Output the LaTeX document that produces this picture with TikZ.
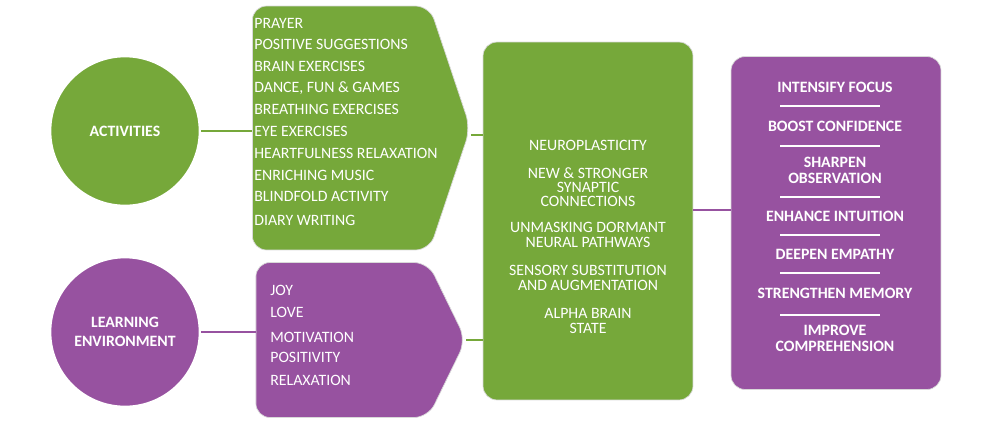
\documentclass[tikz,border=0pt]{standalone}
\usepackage{fontspec}
\setmainfont{Carlito}
\usetikzlibrary{shapes.symbols, positioning}
\definecolor{leaf}{RGB}{118,168,58}
\definecolor{plum}{RGB}{151,82,160}

\begin{document}
\begin{tikzpicture}[
    x=0.02cm, y=-0.02cm,
    hub/.style={circle, draw=white, line width=1.5pt, minimum size=3cm, text=white, font=\bfseries\small, align=center},
    chev/.style={signal, signal to=east, draw=black!15, rounded corners=8pt, inner sep=0pt},
    panel/.style={rectangle, draw=black!15, rounded corners=8pt, inner sep=0pt},
    item/.style={anchor=west, text=white, font=\small, inner sep=0pt},
    effect/.style={text=white, font=\bfseries\small, align=center, inner sep=0pt},
    link/.style={line width=1.2pt}
]
\useasboundingbox (0,0) rectangle (1000,427);

% circles
\node[hub, fill=leaf] (act) at (125,131) {ACTIVITIES};
\node[hub, fill=plum] (env) at (125,332) {LEARNING\\ENVIRONMENT};

% chevrons
\node[chev, fill=leaf, minimum width=4.36cm, minimum height=4.88cm, signal pointer angle=143] (list) at (341,128) {};
\node[chev, fill=plum, minimum width=4.2cm, minimum height=3.1cm, signal pointer angle=128] (mood) at (342,340) {};

% panels
\node[panel, fill=leaf, minimum width=4.2cm, minimum height=7.16cm] (brain) at (588,221) {};
\node[panel, fill=plum, minimum width=4.2cm, minimum height=6.66cm] (gain) at (836,223) {};

% activity list
\foreach \t/\y in {PRAYER/23, POSITIVE SUGGESTIONS/44, BRAIN EXERCISES/66, {DANCE, FUN \& GAMES}/88,
    BREATHING EXERCISES/109, EYE EXERCISES/131, HEARTFULNESS RELAXATION/153, ENRICHING MUSIC/175,
    BLINDFOLD ACTIVITY/196, DIARY WRITING/220}
    \node[item] at (254,\y) {\t};

% environment list
\foreach \t/\y in {JOY/290, LOVE/312, MOTIVATION/337, POSITIVITY/357, RELAXATION/380}
    \node[item] at (270,\y) {\t};

% brain changes
\foreach \t/\y in {NEUROPLASTICITY/145, {NEW \& STRONGER\\[-3pt]SYNAPTIC\\[-3pt]CONNECTIONS}/187,
    {UNMASKING DORMANT\\[-2pt]NEURAL PATHWAYS}/235, {SENSORY SUBSTITUTION\\[-2pt]AND AUGMENTATION}/278,
    {ALPHA BRAIN\\[-2pt]STATE}/321}
    \node[item, anchor=center, align=center] at (588,\y) {\t};

% outcomes
\foreach \t/\y in {INTENSIFY FOCUS/87, BOOST CONFIDENCE/126, {SHARPEN\\[-2pt]OBSERVATION}/170,
    ENHANCE INTUITION/216, DEEPEN EMPATHY/254, STRENGTHEN MEMORY/293, {IMPROVE\\[-2pt]COMPREHENSION}/338}
    \node[effect] at (835,\y) {\t};
\foreach \y in {106,146,197,235,273,315}
    \draw[white, line width=0.6pt] (780,\y) -- (880,\y);

% connectors
\draw[link, leaf] (act.east) -- (act.east -| list.west);
\draw[link, plum] (env.east) -- (env.east -| mood.west);
\draw[link, leaf] (list.east |- 0,135) -- (brain.west |- 0,135);
\draw[link, leaf] (mood.east) -- (mood.east -| brain.west);
\draw[link, plum] (brain.east |- 0,210) -- (gain.west |- 0,210);
\end{tikzpicture}
\end{document}
